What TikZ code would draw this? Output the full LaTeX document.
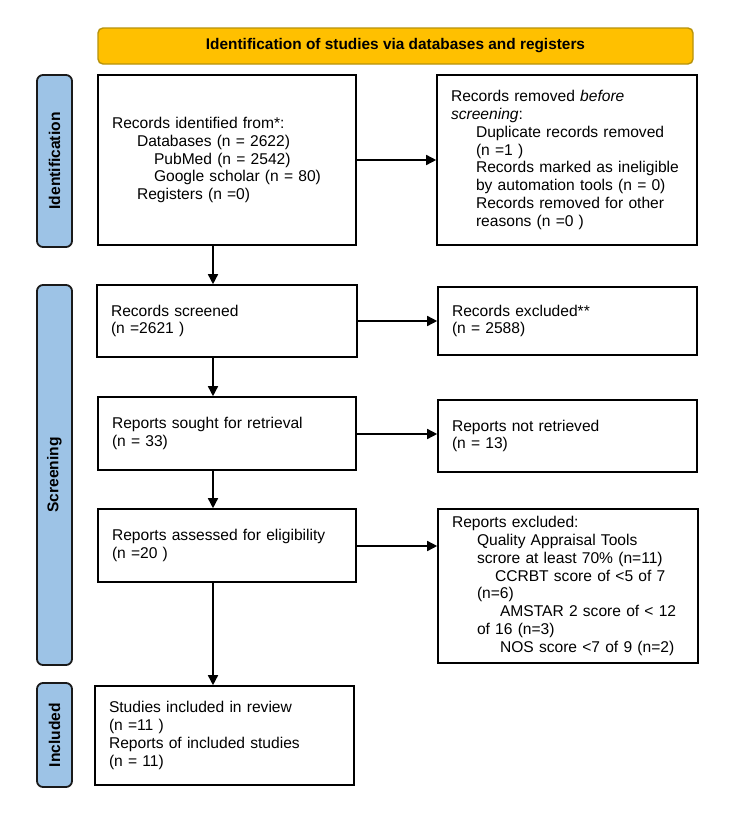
\documentclass[tikz,border=0pt]{standalone}
\usepackage{fontspec}
\setmainfont{Liberation Sans}
\usetikzlibrary{arrows.meta}
\definecolor{headfill}{HTML}{FFC000}
\definecolor{headdraw}{HTML}{B8930A}
\definecolor{labfill}{HTML}{9DC3E6}
\definecolor{labdraw}{HTML}{1A1A1A}
\newcommand{\ind}[1]{\hspace*{#1pt}}
\begin{document}
\begin{tikzpicture}[x=1pt,y=-1pt,
  txt/.style={font=\fontsize{15.6}{17.9}\selectfont},
  flowbox/.style={draw=black, line width=1.6pt, fill=white, txt, align=left,
    inner xsep=14pt, inner ysep=0pt, anchor=center},
  headbox/.style={draw=headdraw, fill=headfill, line width=1.4pt, rounded corners=5pt,
    font=\bfseries\fontsize{15.4}{18}\selectfont, minimum width=595pt, minimum height=36pt, inner sep=0pt},
  labbox/.style={draw=labdraw, fill=labfill, line width=1.8pt, rounded corners=6pt,
    minimum width=35pt, inner sep=0pt},
  labtxt/.style={font=\bfseries\fontsize{15.6}{18}\selectfont, rotate=90},
  arr/.style={line width=1.5pt, -{Triangle[length=10pt,width=10pt]}}
]
\useasboundingbox (0,0) rectangle (750,822);
\fill[white] (0,0) rectangle (750,822);

% header
\node[headbox] (head) at (395.5,46) {Identification of studies via databases and registers};

% side labels
\node[labbox, minimum height=172pt] (lab1) at (54.5,161) {};
\node[labtxt] (lab1t) at (lab1.center) {Identification};
\node[labbox, minimum height=380pt] (lab2) at (54.5,475) {};
\node[labtxt] (lab2t) at (lab2.center) {Screening};
\node[labbox, minimum height=104pt] (lab3) at (54.5,735) {};
\node[labtxt] (lab3t) at (lab3.center) {Included};

% boxes
\node[flowbox, text width=230pt, minimum height=170pt] (b1) at (227,160)
 {Records identified from*:\\
  \ind{25}Databases (n = 2622)\\
  \ind{42}PubMed (n = 2542)\\
  \ind{42}Google scholar (n = 80)\\
  \ind{25}Registers (n =0)};
\node[flowbox, text width=232pt, minimum height=170pt] (b2) at (567,160)
 {Records removed \textit{before}\\
  \textit{screening}:\\
  \ind{25}Duplicate records removed\\
  \ind{25}(n =1 )\\
  \ind{25}Records marked as ineligible\\
  \ind{25}by automation tools (n = 0)\\
  \ind{25}Records removed for other\\
  \ind{25}reasons (n =0 )};
\node[flowbox, text width=232pt, minimum height=72pt] (screen) at (227,321)
 {Records screened\\(n =2621 )};
\node[flowbox, text width=231pt, minimum height=68pt] (excl) at (567.5,321)
 {Records excluded**\\(n = 2588)};
\node[flowbox, text width=230pt, minimum height=73pt] (sought) at (227,433.5)
 {Reports sought for retrieval\\(n = 33)};
\node[flowbox, text width=231pt, minimum height=72pt] (notret) at (567.5,436)
 {Reports not retrieved\\(n = 13)};
\node[flowbox, text width=230pt, minimum height=73pt] (assess) at (227,545.5)
 {Reports assessed for eligibility\\(n =20 )};
\node[flowbox, text width=232pt, minimum height=154pt] (rexcl) at (568,586)
 {Reports excluded:\\
  \ind{25}Quality Appraisal Tools\\
  \ind{25}scrore at least 70\% (n=11)\\
  \ind{43}CCRBT score of <5 of 7\\
  \ind{25}(n=6)\\
  \ind{48}AMSTAR 2 score of < 12\\
  \ind{25}of 16 (n=3)\\
  \ind{48}NOS score <7 of 9 (n=2)};
\node[flowbox, text width=231pt, minimum height=99pt] (incl) at (224.5,735.5)
 {Studies included in review\\
  (n =11 )\\
  Reports of included studies\\
  (n = 11)};

% vertical arrows
\coordinate (ax) at (213,0);
\draw[arr] (b1.south -| ax) -- (screen.north -| ax);
\draw[arr] (screen.south -| ax) -- (sought.north -| ax);
\draw[arr] (sought.south -| ax) -- (assess.north -| ax);
\draw[arr] (assess.south -| ax) -- (incl.north -| ax);

% horizontal arrows
\draw[arr] (b1.east) -- (b1.east -| b2.west);
\draw[arr] (screen.east) -- (screen.east -| excl.west);
\coordinate (ay1) at (0,434);
\draw[arr] (sought.east |- ay1) -- (notret.west |- ay1);
\coordinate (ay) at (0,546);
\draw[arr] (assess.east |- ay) -- (rexcl.west |- ay);
\end{tikzpicture}
\end{document}
